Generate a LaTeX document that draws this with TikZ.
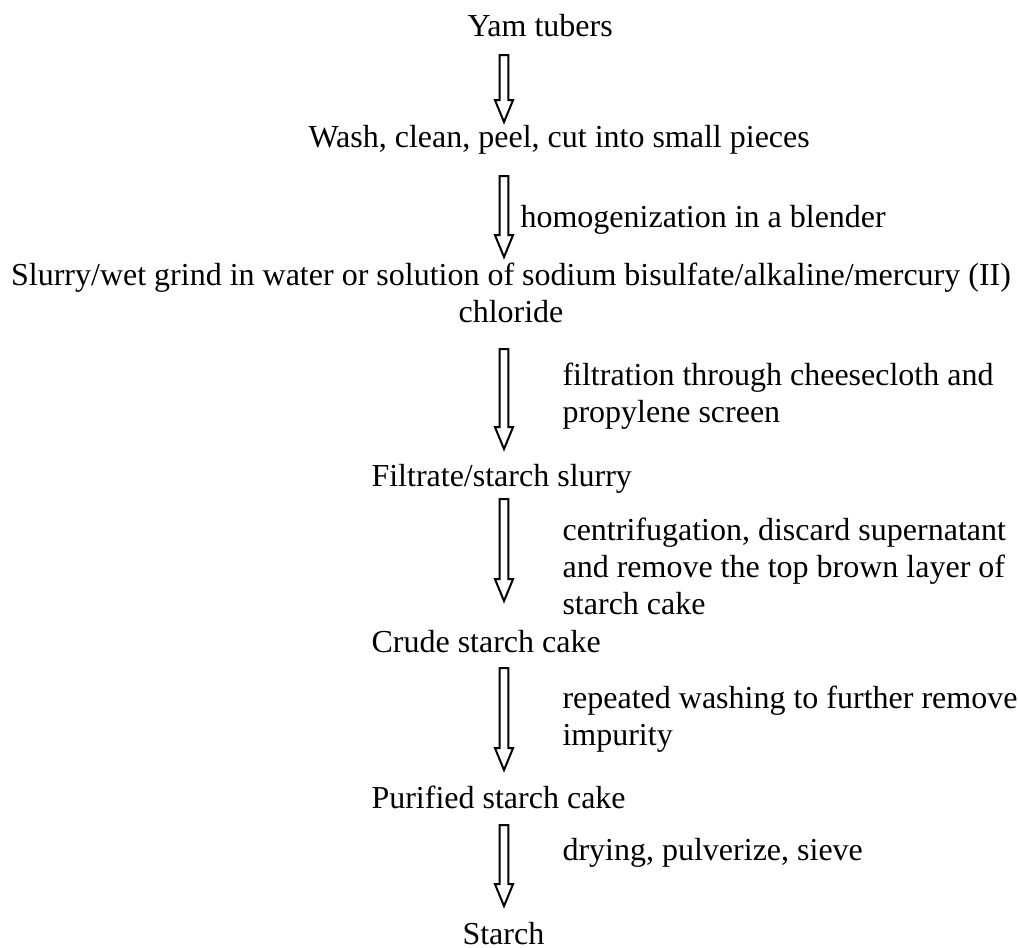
\documentclass[tikz,border=0pt]{standalone}
\usepackage{fontspec}
\setmainfont{Liberation Serif}
\usetikzlibrary{calc}

\begin{document}
\begin{tikzpicture}[x=0.375pt, y=-0.375pt,
  stage/.style={anchor=base west, inner sep=0pt, font=\fontsize{12}{13.875}\selectfont},
  note/.style={stage, align=left},
  blk/.style={line width=0.75pt, line join=miter,
              to path={let \p1=(\tikztostart), \p2=(\tikztotarget) in
                (\x1-1.6pt,\y1) -- (\x1+1.6pt,\y1) -- (\x1+1.6pt,\y2+8.25pt)
                -- (\x1+3.4pt,\y2+8.25pt) -- (\x2,\y2) -- (\x1-3.4pt,\y2+8.25pt)
                -- (\x1-1.6pt,\y2+8.25pt) -- cycle}}]
  \useasboundingbox (0,0) rectangle (1018,947);
  % main column (multi-line nodes sit on their last line)
  \node[stage] (yam) at (467,36) {Yam tubers};
  \node[stage] (wash) at (308,147) {Wash, clean, peel, cut into small pieces};
  \node[stage, anchor=base, align=center] (slurry) at (511,322)
    {Slurry/wet grind in water or solution of sodium bisulfate/alkaline/mercury (II)\\ chloride};
  \node[stage] (filtrate) at (371,486) {Filtrate/starch slurry};
  \node[stage] (crude) at (371,652) {Crude starch cake};
  \node[stage] (purified) at (371,808) {Purified starch cake};
  \node[stage] (starch) at (462,944) {Starch};
  % side notes
  \node[note] (homog) at (520,227) {homogenization in a blender};
  \node[note] (filt) at (562,422) {filtration through cheesecloth and\\ propylene screen};
  \node[note] (centr) at (562,614) {centrifugation, discard supernatant\\ and remove the top brown layer of\\ starch cake};
  \node[note] (rep) at (562,745) {repeated washing to further remove\\ impurity};
  \node[note] (dry) at (562,860) {drying, pulverize, sieve};
  % arrow ends
  \coordinate (s1) at (504,55);  \coordinate (e1) at (504,122);
  \coordinate (s2) at (504,176); \coordinate (e2) at (504,257);
  \coordinate (s3) at (504,349); \coordinate (e3) at (504,449);
  \coordinate (s4) at (504,499); \coordinate (e4) at (504,601);
  \coordinate (s5) at (504,668); \coordinate (e5) at (504,770);
  \coordinate (s6) at (504,825); \coordinate (e6) at (504,906);
  \draw[blk] (s1) to (e1); \draw[blk] (s2) to (e2);
  \draw[blk] (s3) to (e3); \draw[blk] (s4) to (e4);
  \draw[blk] (s5) to (e5); \draw[blk] (s6) to (e6);
\end{tikzpicture}
\end{document}
